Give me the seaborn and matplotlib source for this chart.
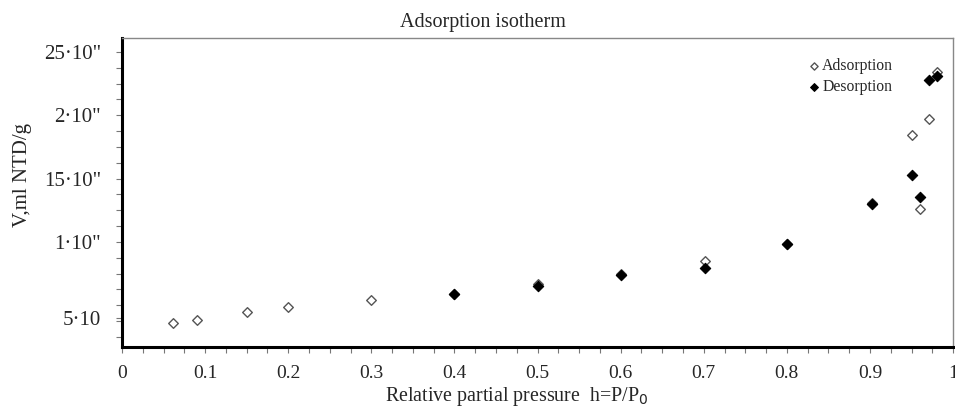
import numpy as np
import pandas as pd
from matplotlib import pyplot as plt
from matplotlib.ticker import MultipleLocator
import seaborn as sns

sns.set_style('white')
plt.rcParams['font.family'] = ['Liberation Serif', 'DejaVu Serif']

# data
ads_h = [0.061, 0.090, 0.150, 0.200, 0.300, 0.400, 0.500, 0.600, 0.701, 0.800, 0.902, 0.950, 0.960, 0.971, 0.981]
ads_v = [3.58, 3.84, 4.47, 4.89, 5.40, 5.90, 6.70, 7.45, 8.48, 9.85, 13.05, 18.45, 12.60, 19.70, 23.40]
des_h = [0.400, 0.500, 0.600, 0.701, 0.800, 0.902, 0.950, 0.960, 0.971, 0.981]
des_v = [5.90, 6.55, 7.40, 7.97, 9.82, 12.97, 15.31, 13.53, 22.79, 23.10]

x_ticks = [0, 0.1, 0.2, 0.3, 0.4, 0.5, 0.6, 0.7, 0.8, 0.9, 1.0]
x_labels = ['0', '0.1', '0.2', '0.3', '0.4', '0.5', '0.6', '0.7', '0.8', '0.9', '1']
y_ticks = [4, 10, 15, 20, 25]
y_labels = ['5·10', '1·10"', '15·10"', '2·10"', '25·10"']

ads = pd.DataFrame({'h': ads_h, 'V': ads_v})
des = pd.DataFrame({'h': des_h, 'V': des_v})

fig = plt.figure(figsize=(9.55, 4.07), dpi=100)
ax = fig.add_axes([0.1277, 0.1474, 0.8703, 0.7592])

sns.scatterplot(data=ads, x='h', y='V', marker='D', s=24, facecolor='white',
                edgecolor='#555555', linewidth=1.0, label='Adsorption', ax=ax, zorder=3)
sns.scatterplot(data=des, x='h', y='V', marker='D', s=28, color='black',
                edgecolor='black', linewidth=0.8, label='Desorption', ax=ax, zorder=4)

ax.set_xlim(0, 1.0)
ax.set_ylim(1.71, 26.1)
ax.set_xticks(x_ticks)
ax.set_xticklabels(x_labels)
ax.set_yticks(y_ticks)
ax.set_yticklabels(y_labels)
ax.xaxis.set_minor_locator(MultipleLocator(0.025))
ax.yaxis.set_minor_locator(MultipleLocator(1.25))
ax.tick_params(axis='both', which='both', direction='out', length=4, width=0.8,
               color='#777777', bottom=True, left=True)
ax.tick_params(axis='x', which='major', labelsize=14, pad=9)
ax.tick_params(axis='y', which='major', labelsize=15, pad=11)

for side in ['left', 'bottom']:
    ax.spines[side].set_linewidth(2.2)
    ax.spines[side].set_color('black')
for side in ['top', 'right']:
    ax.spines[side].set_linewidth(1.0)
    ax.spines[side].set_color('#888888')

ax.set_xlabel('Relative partial pressure  h=P/P$_0$', fontsize=14.4)
ax.xaxis.set_label_coords(0.475, -0.122)
ax.set_ylabel('V,ml NTD/g', fontsize=15)
ax.yaxis.set_label_coords(-0.108, 0.557)
fig.text(483 / 955, 1 - 22 / 407, 'Adsorption isotherm', ha='center', va='center', fontsize=14.5)

ax.legend(loc='upper right', bbox_to_anchor=(0.945, 0.98), frameon=False, fontsize=11.3,
          handletextpad=0.15, labelspacing=0.3, markerscale=0.75, handlelength=0.8)

plt.savefig('out.png', dpi=100)
